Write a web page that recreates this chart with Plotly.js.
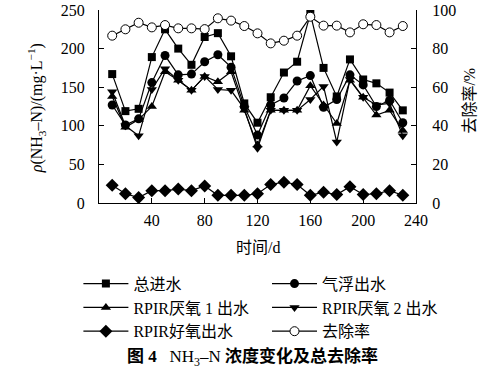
<!DOCTYPE html>
<html>
<head>
<meta charset="utf-8">
<script src="https://cdn.plot.ly/plotly-3.0.1.min.js"></script>
<style>html,body{margin:0;padding:0;background:#fff;}#chart{width:499px;height:371px;}</style>
</head>
<body>
<div id="chart"></div>
<script>
var days = [10,20,30,40,50,60,70,80,90,100,110,120,130,140,150,160,170,180,190,200,210,220,230];
var influent = [167,119,122,189,225,200,179,215,220,190,129,104,137,169,183,245,175,138,186,160,155,143,120];
var flotation = [127,101,109,156,191,166,167,183,192,176,125,88,127,136,158,165,124,134,166,153,125,133,104];
var anoxic1 = [138,98,108,125,170,159,146,164,157,170,120,75,120,120,120,152,127,103,159,137,114,120,94];
var anoxic2 = [144,100,87,147,174,159,146,164,147,146,122,71,120,120,120,134,151,79,160,137,127,129,87];
var aerobic = [23,12,7,16,16,18,16,22,10,10,10,12,24,27,24,10,14,11,21,11,12,16,10];
var removal = [86.7,90.0,93.4,91.0,92.2,90.5,90.5,90.1,95.7,94.5,91.7,87.9,82.7,84.1,86.7,96.5,91.9,91.9,88.4,92.6,92.2,88.4,91.7];
var names = ['总进水','气浮出水','RPIR厌氧 1 出水','RPIR厌氧 2 出水','RPIR好氧出水','去除率'];
var xTicks = [40,80,120,160,200,240];
var yTicks = [0,50,100,150,200,250];
var y2Ticks = [0,20,40,60,80,100];

var FONT = '"Liberation Serif", "Times New Roman", "Noto Sans CJK SC", serif';
function tr(y, name, marker, extra) {
  var t = {x: days, y: y, name: name, type: 'scatter', mode: 'lines+markers',
    line: {color: '#000', width: 1.2}, marker: marker};
  if (extra) for (var k in extra) t[k] = extra[k];
  return t;
}
var data = [
  tr(influent, names[0], {symbol:'square', size:8, color:'#000'}, {legend: 'legend'}),
  tr(flotation, names[1], {symbol:'circle', size:9, color:'#000'}, {legend: 'legend2'}),
  tr(anoxic1, names[2], {symbol:'triangle-up', size:9, color:'#000'}, {legend: 'legend'}),
  tr(anoxic2, names[3], {symbol:'triangle-down', size:9, color:'#000'}, {legend: 'legend2'}),
  tr(aerobic, names[4], {symbol:'diamond', size:10, color:'#000'}, {legend: 'legend'}),
  tr(removal, names[5], {symbol:'circle', size:9, color:'#fff', line:{color:'#000', width:1}}, {yaxis: 'y2', legend: 'legend2'})
];
var legBase = {xanchor: 'left', yanchor: 'top', orientation: 'v', itemsizing: 'trace', itemwidth: 45,
  font: {family: FONT, size: 16, color: '#000'}, bgcolor: 'rgba(0,0,0,0)', tracegroupgap: 0};
var axBase = {ticks: 'inside', ticklen: 5, tickcolor: '#000', showline: true, linecolor: '#000', linewidth: 1,
  showgrid: false, zeroline: false, tickfont: {family: FONT, size: 16}};
var layout = {
  width: 499, height: 371,
  margin: {l: 99, r: 83, t: 10, b: 168, autoexpand: false},
  paper_bgcolor: '#fff', plot_bgcolor: '#fff',
  font: {family: FONT, size: 15, color: '#000'},
  showlegend: true,
  legend: Object.assign({}, legBase, {x: -0.065, y: -0.33}),
  legend2: Object.assign({}, legBase, {x: 0.53, y: -0.33}),
  xaxis: Object.assign({}, axBase, {range: [0, 240], tickvals: xTicks, ticklabelstandoff: 3}),
  yaxis: Object.assign({}, axBase, {range: [0, 250], tickvals: yTicks, ticklabelstandoff: 10}),
  yaxis2: Object.assign({}, axBase, {range: [0, 100], tickvals: y2Ticks, overlaying: 'y', side: 'right', ticklabelstandoff: 12}),
  annotations: [
    {text: '时间/d', xref: 'paper', yref: 'paper', x: 0.5, y: -0.228, xanchor: 'center', yanchor: 'middle',
      showarrow: false, font: {family: FONT, size: 16}},
    {text: '<i>ρ</i>(NH<sub>3</sub>–N)/(mg·L<sup>−1</sup>)', xref: 'paper', yref: 'paper', x: -0.196, y: 0.49,
      textangle: -90, xanchor: 'center', yanchor: 'middle', showarrow: false, font: {family: FONT, size: 16}},
    {text: '去除率/%', xref: 'paper', yref: 'paper', x: 1.17, y: 0.53,
      textangle: -90, xanchor: 'center', yanchor: 'middle', showarrow: false, font: {family: FONT, size: 16}},
    {text: '<b>图 4</b>   NH<sub>3</sub>–N <b>浓度变化及总去除率</b>', xref: 'paper', yref: 'paper', x: 0.483, y: -0.798,
      xanchor: 'center', yanchor: 'middle', showarrow: false, font: {family: FONT, size: 17}}
  ]
};
Plotly.newPlot('chart', data, layout, {displayModeBar: false, staticPlot: true});
</script>
</body>
</html>
